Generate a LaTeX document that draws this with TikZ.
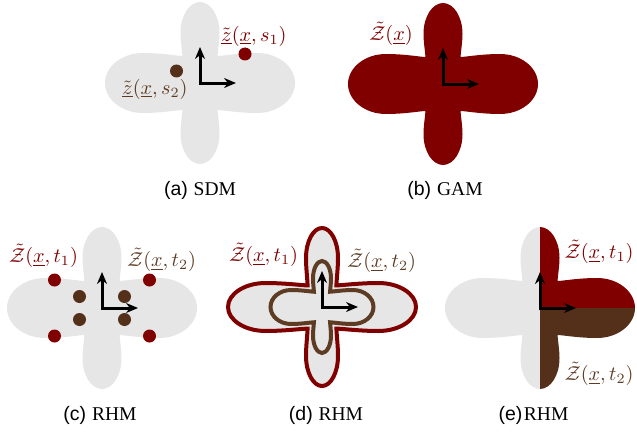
\documentclass[tikz,border=0pt]{standalone}
\usepackage{fontspec}
\usetikzlibrary{arrows.meta}
\newfontfamily\capsans{Liberation Sans}
\newfontfamily\capserif{Liberation Serif}
\definecolor{cgray}{HTML}{E6E6E6}
\definecolor{cred}{HTML}{800000}
\definecolor{cbrown}{HTML}{542F1A}
\definecolor{cbrownl}{HTML}{5E3C23}
% clover outline: #1 horizontal reach, #2 vertical reach, #3 horizontal lobe half-height, #4 vertical lobe half-width
\newcommand\cloverpath[4]{%
 (#1,0) .. controls (#1,{0.55*#3}) and ({0.82*#1},#3) .. ({0.6*#1},#3)
 .. controls ({0.4*#1},#3) and ({0.9*#4+0.05*#1},{0.9*#3}) .. ({0.9*#4},{0.9*#3})
 .. controls ({0.93*#4},{0.585*#3+0.217*#2}) and (#4,{0.403*#2+0.315*#3}) .. (#4,{0.62*#2})
 .. controls (#4,{0.83*#2}) and ({0.55*#4},#2) .. (0,#2)
 .. controls ({-0.55*#4},#2) and (-#4,{0.83*#2}) .. (-#4,{0.62*#2})
 .. controls (-#4,{0.403*#2+0.315*#3}) and ({-0.93*#4},{0.585*#3+0.217*#2}) .. ({-0.9*#4},{0.9*#3})
 .. controls ({-0.9*#4-0.05*#1},{0.9*#3}) and ({-0.4*#1},#3) .. ({-0.6*#1},#3)
 .. controls ({-0.82*#1},#3) and (-#1,{0.55*#3}) .. (-#1,0)
 .. controls (-#1,{-0.55*#3}) and ({-0.82*#1},-#3) .. ({-0.6*#1},-#3)
 .. controls ({-0.4*#1},-#3) and ({-0.9*#4-0.05*#1},{-0.9*#3}) .. ({-0.9*#4},{-0.9*#3})
 .. controls ({-0.93*#4},{-0.585*#3-0.217*#2}) and (-#4,{-0.403*#2-0.315*#3}) .. (-#4,{-0.62*#2})
 .. controls (-#4,{-0.83*#2}) and ({-0.55*#4},-#2) .. (0,-#2)
 .. controls ({0.55*#4},-#2) and (#4,{-0.83*#2}) .. (#4,{-0.62*#2})
 .. controls (#4,{-0.403*#2-0.315*#3}) and ({0.93*#4},{-0.585*#3-0.217*#2}) .. ({0.9*#4},{-0.9*#3})
 .. controls ({0.9*#4+0.05*#1},{-0.9*#3}) and ({0.4*#1},-#3) .. ({0.6*#1},-#3)
 .. controls ({0.82*#1},-#3) and (#1,{-0.55*#3}) .. (#1,0) -- cycle}
\begin{document}
\begin{tikzpicture}[x=1pt,y=-1pt,
  axisarrow/.style={line width=3pt, {Stealth[length=12pt,width=10pt]}-{Stealth[length=12pt,width=10pt]}},
  dotnode/.style={circle, inner sep=0pt, minimum size=13pt},
  mlabel/.style={inner sep=0pt, scale=2.02},
  caption/.style={inner sep=0pt, font=\fontsize{19.5}{22}\selectfont}]
\useasboundingbox (0,0) rectangle (637,436);
\fill[white] (0,0) rectangle (637,436);
% (a)
\begin{scope}[shift={(200,83)}]
 \fill[cgray] \cloverpath{95}{81}{30}{19.5};
 \node[dotnode, fill=cred] (da1) at (45,-29) {};
 \node[dotnode, fill=cbrown] (da2) at (-23.5,-12) {};
 \coordinate (oa) at (0,0); \coordinate (oaU) at (0,-36); \coordinate (oaR) at (36,0);
 \draw[axisarrow] (oaU) -- (oa) -- (oaR);
\end{scope}
\node[mlabel, text=cred] (la1) at (254,36) {$\tilde{\underline{z}}(\underline{x},s_1)$};
\node[mlabel, text=cbrownl] (la2) at (155,89) {$\tilde{\underline{z}}(\underline{x},s_2)$};
\node[caption] (ca) at (200,190) {{\capsans (a)} {\capserif SDM}};
% (b)
\begin{scope}[shift={(443,84)}]
 \fill[cred] \cloverpath{95}{81}{30}{19.5};
 \coordinate (ob) at (0,0); \coordinate (obU) at (0,-36); \coordinate (obR) at (36,0);
 \draw[axisarrow] (obU) -- (ob) -- (obR);
\end{scope}
\node[mlabel, text=cred] (lb) at (391,34) {$\tilde{\mathcal{Z}}(\underline{x})$};
\node[caption] (cb) at (445,190) {{\capsans (b)} {\capserif GAM}};
% (c)
\begin{scope}[shift={(102,308)}]
 \fill[cgray] \cloverpath{95}{81}{30}{19.5};
 \foreach \sx in {-1,1} {\foreach \sy in {-1,1} {
   \node[dotnode, fill=cred] (dr\sx\sy) at ({47.5*\sx},{28*\sy}) {};
   \node[dotnode, fill=cbrown] (db\sx\sy) at ({22.5*\sx},{11.5*\sy}) {};
 }}
 \coordinate (oc) at (0,0); \coordinate (ocU) at (0,-36); \coordinate (ocR) at (36,0);
 \draw[axisarrow] (ocU) -- (oc) -- (ocR);
\end{scope}
\node[mlabel, text=cred] (lc1) at (43.5,256) {$\tilde{\mathcal{Z}}(\underline{x},t_1)$};
\node[mlabel, text=cbrownl] (lc2) at (161.5,260) {$\tilde{\mathcal{Z}}(\underline{x},t_2)$};
\node[caption] (cc) at (100,415.5) {{\capsans (c)} {\capserif RHM}};
% (d)
\begin{scope}[shift={(322,307)}]
 \filldraw[fill=cgray, draw=cred, line width=4pt] \cloverpath{94}{79}{24}{16};
 \draw[cbrownl, line width=4pt] \cloverpath{51.5}{46}{17}{9};
 \coordinate (od) at (0,0); \coordinate (odU) at (0,-36); \coordinate (odR) at (36,0);
 \draw[axisarrow] (odU) -- (od) -- (odR);
\end{scope}
\node[mlabel, text=cred] (ld1) at (263.5,255) {$\tilde{\mathcal{Z}}(\underline{x},t_1)$};
\node[mlabel, text=cbrownl] (ld2) at (381.5,261) {$\tilde{\mathcal{Z}}(\underline{x},t_2)$};
\node[caption] (cd) at (326,415) {{\capsans (d)} {\capserif RHM}};
% (e)
\begin{scope}[shift={(540,308)}]
 \begin{scope}
  \clip \cloverpath{95}{81}{30}{19.5};
  \fill[cgray] (-100,-90) rectangle (0,90);
  \fill[cred] (0,-90) rectangle (100,0);
  \fill[cbrown] (0,0) rectangle (100,90);
 \end{scope}
 \coordinate (oe) at (0,0); \coordinate (oeU) at (0,-36); \coordinate (oeR) at (36,0);
 \draw[axisarrow] (oeU) -- (oe) -- (oeR);
\end{scope}
\node[mlabel, text=cred] (le1) at (599,251.5) {$\tilde{\mathcal{Z}}(\underline{x},t_1)$};
\node[mlabel, text=cbrownl] (le2) at (599,373.5) {$\tilde{\mathcal{Z}}(\underline{x},t_2)$};
\node[caption] (ce) at (533.5,415.5) {{\capsans (e)}\hspace{1.5pt}{\capserif RHM}};
\end{tikzpicture}
\end{document}
